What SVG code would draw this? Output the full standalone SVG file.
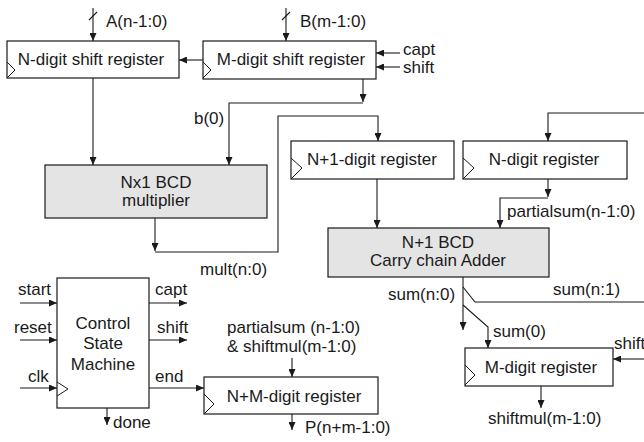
<svg xmlns="http://www.w3.org/2000/svg" width="644" height="442" viewBox="0 0 644 442">
<defs>
<marker id="ah" markerWidth="8" markerHeight="7" refX="8" refY="3.5" orient="auto" markerUnits="userSpaceOnUse">
<path d="M0,0 L8,3.5 L0,7 z" fill="#1a1a1a"/>
</marker>
<style>
.box{fill:#fff;stroke:#1a1a1a;stroke-width:1.2}
.gbox{fill:#e4e4e4;stroke:#1a1a1a;stroke-width:1.2}
.clk{fill:none;stroke:#1a1a1a;stroke-width:1}
.w{fill:none;stroke:#1a1a1a;stroke-width:1.1}
.a{fill:none;stroke:#1a1a1a;stroke-width:1.1;marker-end:url(#ah)}
text{font-family:"Liberation Sans",Arial,sans-serif;font-size:17px;fill:#1a1a1a}
.c{text-anchor:middle}
</style>
</defs>
<rect width="644" height="442" fill="#fff"/>
<g id="connectors">
<path class="a" d="M93,8 V41"/>
<path class="w" d="M89,20 L97,12"/>
<path class="a" d="M286,8 V41"/>
<path class="w" d="M282,20 L290,12"/>
<path class="a" d="M203,60 H179"/>
<path class="a" d="M400,53 H376"/>
<path class="a" d="M400,67 H376"/>
<path class="a" d="M363,79 V102"/>
<path class="a" d="M363,103 H229 V165"/>
<path class="a" d="M93,78 V165"/>
<path class="a" d="M155,218 V251"/>
<path class="a" d="M155,252 H278 V116 H378 V141"/>
<path class="a" d="M377,179 V228"/>
<path class="a" d="M644,113 H548 V141"/>
<path class="a" d="M548,179 V197"/>
<path class="a" d="M548,198 H500 V228"/>
<path class="a" d="M463,277 V330"/>
<path class="w" d="M463,287 L475,302 H644"/>
<path class="a" d="M463,305 L488,327 V348"/>
<path class="a" d="M644,359 H613"/>
<path class="a" d="M541,386 V408"/>
<path class="a" d="M20,303 H57"/>
<path class="a" d="M20,340 H57"/>
<path class="a" d="M20,388 H57"/>
<path class="a" d="M149,303 H187"/>
<path class="a" d="M149,340 H187"/>
<path class="a" d="M149,388 H204"/>
<path class="a" d="M107,408 V425"/>
<path class="a" d="M292,358 V377"/>
<path class="a" d="M292,414 V430"/>
<text x="106" y="27">A(n-1:0)</text>
<text x="300" y="27">B(m-1:0)</text>
<text x="403" y="55">capt</text>
<text x="403" y="73">shift</text>
<text x="194" y="124">b(0)</text>
<text x="200" y="275">mult(n:0)</text>
<text x="507" y="217">partialsum(n-1:0)</text>
<text x="388" y="300">sum(n:0)</text>
<text x="553" y="295">sum(n:1)</text>
<text x="493" y="337">sum(0)</text>
<text x="614" y="349">shift</text>
<text x="488" y="424">shiftmul(m-1:0)</text>
<text x="18" y="295">start</text>
<text x="14" y="333">reset</text>
<text x="28" y="382">clk</text>
<text x="155" y="295">capt</text>
<text x="157" y="333">shift</text>
<text x="155" y="382">end</text>
<text x="113" y="428">done</text>
<text x="227" y="333">partialsum (n-1:0)</text>
<text x="227" y="352">&amp; shiftmul(m-1:0)</text>
<text x="305" y="433">P(n+m-1:0)</text>
</g>
<g id="nshift">
<rect class="box" x="7" y="41" width="172" height="37"/>
<path class="clk" d="M7,62 L15,70 L7,78"/>
<text class="c" x="91" y="65">N-digit shift register</text>
</g>
<g id="mshift">
<rect class="box" x="203" y="41" width="173" height="38"/>
<path class="clk" d="M203,62 L211,70 L203,78"/>
<text class="c" x="291" y="65">M-digit shift register</text>
</g>
<g id="mult">
<rect class="gbox" x="45" y="165" width="222" height="53"/>
<text class="c" x="156" y="188">Nx1 BCD</text>
<text class="c" x="156" y="206">multiplier</text>
</g>
<g id="n1reg">
<rect class="box" x="291" y="141" width="163" height="38"/>
<path class="clk" d="M291,158 L302,168 L291,179"/>
<text class="c" x="372" y="165">N+1-digit register</text>
</g>
<g id="nreg">
<rect class="box" x="463" y="141" width="164" height="38"/>
<path class="clk" d="M463,158 L474,168 L463,179"/>
<text class="c" x="544" y="165">N-digit register</text>
</g>
<g id="adder">
<rect class="gbox" x="328" y="228" width="221" height="49"/>
<text class="c" x="438" y="248">N+1 BCD</text>
<text class="c" x="438" y="266">Carry chain Adder</text>
</g>
<g id="mreg">
<rect class="box" x="465" y="348" width="148" height="38"/>
<path class="clk" d="M465,365 L475,375 L465,385"/>
<text class="c" x="541" y="373">M-digit register</text>
</g>
<g id="fsm">
<rect class="box" x="57" y="278" width="92" height="130"/>
<path class="clk" d="M57,382 L68,389 L57,396"/>
<text class="c" x="103" y="329">Control</text>
<text class="c" x="103" y="349">State</text>
<text class="c" x="103" y="370">Machine</text>
</g>
<g id="nmreg">
<rect class="box" x="204" y="377" width="174" height="37"/>
<path class="clk" d="M204,394 L214,404 L204,414"/>
<text class="c" x="294" y="402">N+M-digit register</text>
</g>
</svg>
